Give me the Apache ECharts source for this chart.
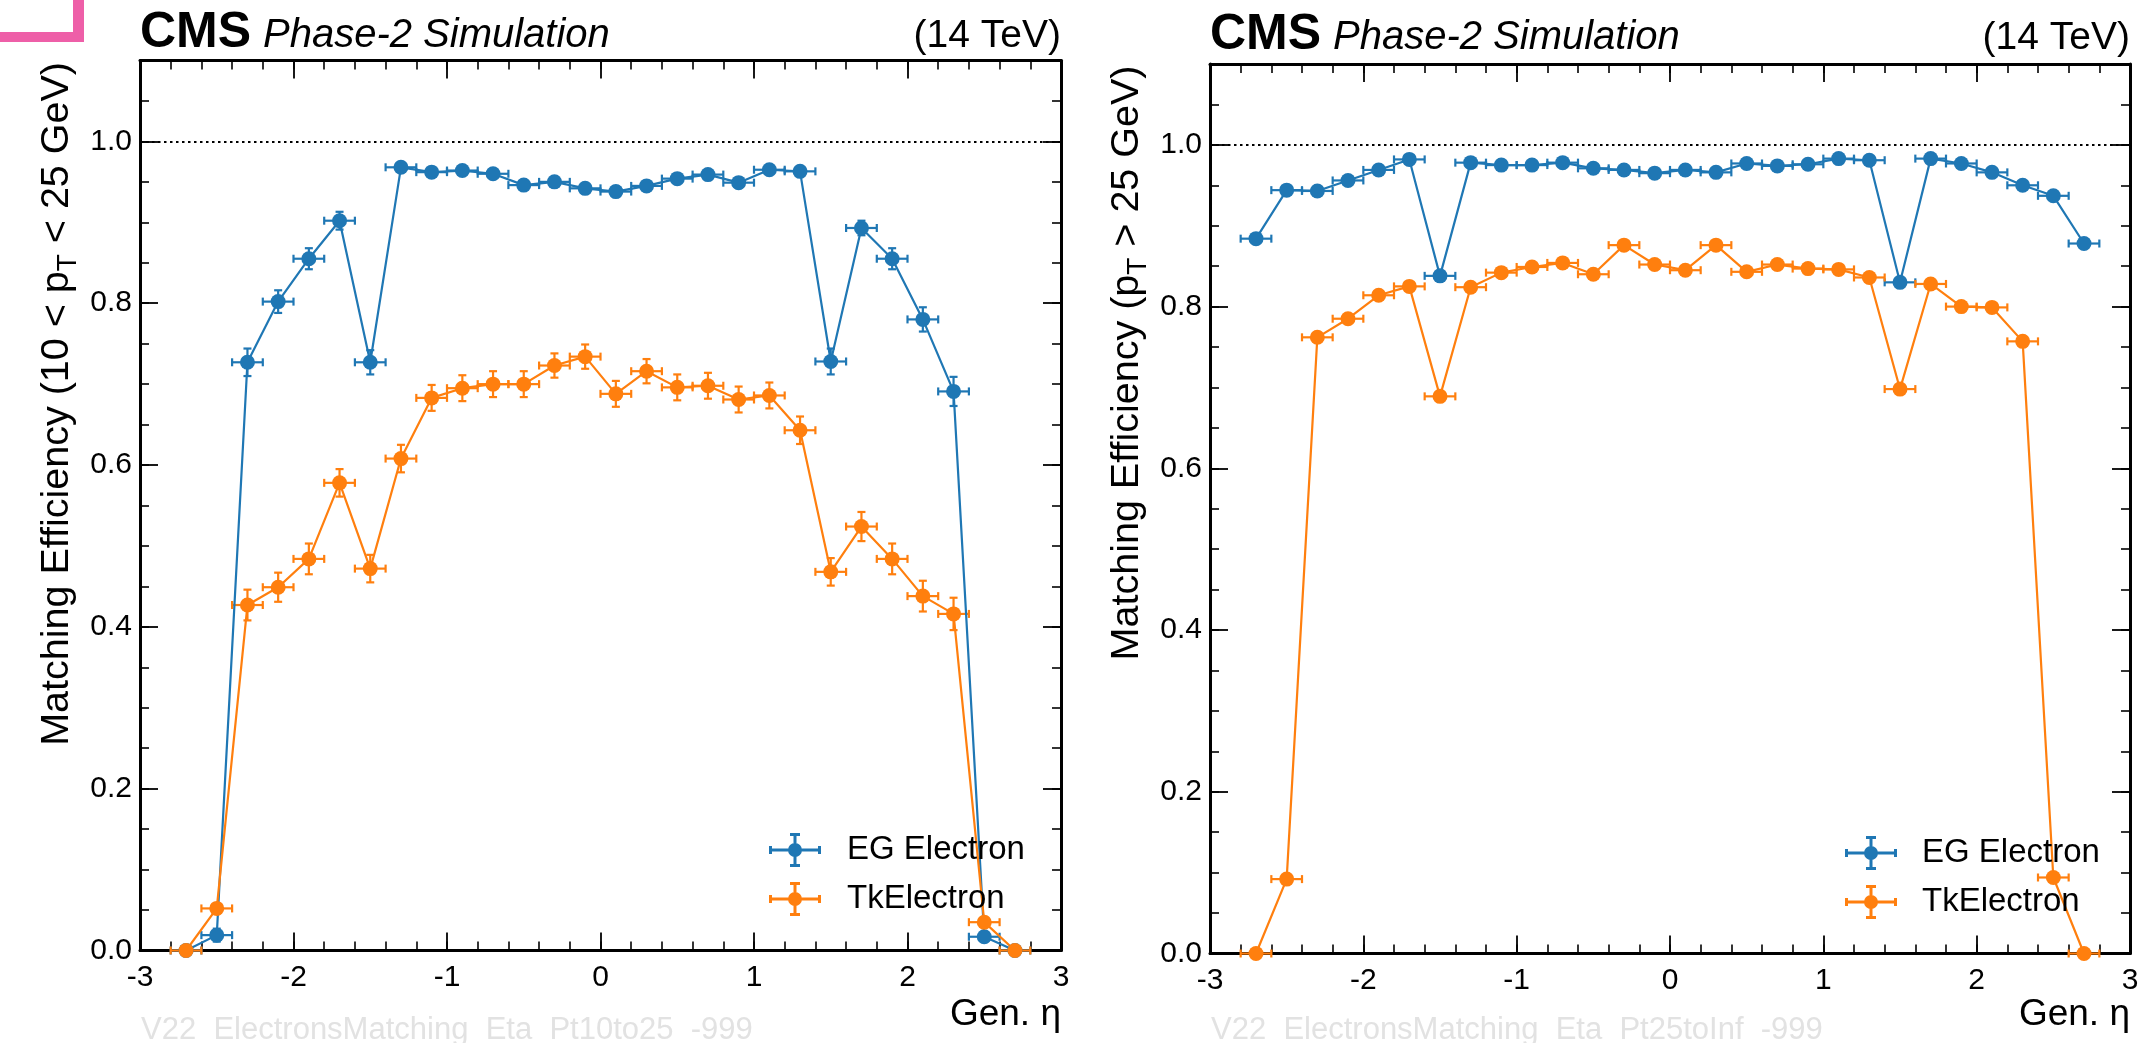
<!DOCTYPE html>
<html><head><meta charset="utf-8">
<script src="https://cdn.jsdelivr.net/npm/echarts@6/dist/echarts.min.js"></script>
<style>html,body{margin:0;padding:0;background:#fff;}#c{width:2146px;height:1043px;}</style>
</head><body><div id="c"></div>
<script>
// ---------------- data ----------------
const eta = [-2.7,-2.5,-2.3,-2.1,-1.9,-1.7,-1.5,-1.3,-1.1,-0.9,-0.7,-0.5,-0.3,-0.1,0.1,0.3,0.5,0.7,0.9,1.1,1.3,1.5,1.7,1.9,2.1,2.3,2.5,2.7];
const etaHalfWidth = 0.1;
// Left panel: 10 < pT < 25 GeV
const egLow    = [0,0.019,0.727,0.802,0.855,0.902,0.727,0.968,0.962,0.964,0.960,0.946,0.950,0.942,0.938,0.945,0.954,0.959,0.949,0.965,0.963,0.728,0.893,0.855,0.780,0.691,0.017,0];
const egLowErr = [0,0.008,0.017,0.014,0.013,0.011,0.015,0.004,0.005,0.005,0.005,0.006,0.006,0.006,0.006,0.006,0.005,0.005,0.006,0.004,0.005,0.016,0.009,0.013,0.015,0.018,0.006,0];
const tkLow    = [0,0.052,0.427,0.449,0.484,0.578,0.472,0.608,0.683,0.695,0.700,0.700,0.723,0.734,0.688,0.716,0.696,0.698,0.681,0.686,0.643,0.468,0.524,0.484,0.438,0.416,0.035,0];
const tkLowErr = [0,0.006,0.019,0.018,0.019,0.017,0.017,0.017,0.016,0.016,0.016,0.016,0.015,0.015,0.016,0.015,0.016,0.016,0.016,0.016,0.017,0.017,0.018,0.019,0.019,0.020,0.006,0];
// Right panel: pT > 25 GeV
const egHigh    = [0.884,0.944,0.943,0.956,0.969,0.982,0.838,0.978,0.975,0.975,0.978,0.971,0.969,0.965,0.969,0.966,0.977,0.974,0.976,0.983,0.981,0.830,0.983,0.977,0.966,0.950,0.937,0.878];
const egHighErr = [0.004,0.003,0.003,0.003,0.003,0.003,0.004,0.002,0.002,0.002,0.002,0.002,0.002,0.002,0.002,0.002,0.002,0.002,0.002,0.002,0.002,0.004,0.003,0.003,0.003,0.003,0.003,0.004];
const tkHigh    = [0,0.092,0.762,0.785,0.814,0.825,0.689,0.824,0.842,0.849,0.854,0.840,0.876,0.852,0.845,0.876,0.843,0.852,0.847,0.846,0.836,0.698,0.828,0.800,0.799,0.757,0.094,0];
const tkHighErr = [0,0.005,0.006,0.005,0.005,0.005,0.006,0.005,0.005,0.005,0.005,0.005,0.005,0.005,0.005,0.005,0.005,0.005,0.005,0.005,0.005,0.006,0.005,0.005,0.005,0.006,0.005,0];
const xTicks = {min: -3, max: 3, major: 1, minor: 0.2};
const yTicks = {min: 0, max: 1.1, major: 0.2, minor: 0.05};
const seriesNames = ['EG Electron', 'TkElectron'];
const yTitles = ['Matching Efficiency (10 < p{sub|T} < 25 GeV)', 'Matching Efficiency (p{sub|T} > 25 GeV)'];
const watermarks = ['V22_ElectronsMatching_Eta_Pt10to25_-999', 'V22_ElectronsMatching_Eta_Pt25toInf_-999'];

// ---------------- style ----------------
const FONT = '"Liberation Sans", Arial, Helvetica, sans-serif';
const BLUE = '#1f77b4', ORANGE = '#ff7f0e', PINK = '#ee5fa8';
const grids = [
  {left: 140, top: 60.5, width: 921, height: 890},
  {left: 1210, top: 64, width: 920, height: 889.5}
];
const LEGEND_ICON = 'path://M0 15.5H52V18.5H0Z M0 13H3V21H0Z M49 13H52V21H49Z M24.5 0H27.5V34H24.5Z M21 0H31V3H21Z M21 31H31V34H21Z M33 17A7 7 0 1 1 19 17A7 7 0 1 1 33 17Z';

function xAxes(gi) {
  const base = {type: 'value', gridIndex: gi, min: xTicks.min, max: xTicks.max, splitLine: {show: false}};
  return [
    Object.assign({}, base, {position: 'bottom', interval: xTicks.major,
      axisLine: {show: true, onZero: false, lineStyle: {color: '#000', width: 3}},
      axisTick: {show: true, inside: true, length: 18, lineStyle: {color: '#000', width: 1.8}},
      axisLabel: {show: true, margin: 12, fontSize: 30, fontFamily: FONT, color: '#000'}}),
    Object.assign({}, base, {position: 'bottom', interval: xTicks.minor,
      axisLine: {show: false, onZero: false},
      axisTick: {show: true, inside: true, length: 9, lineStyle: {color: '#000', width: 1.6}},
      axisLabel: {show: false}}),
    Object.assign({}, base, {position: 'top', interval: xTicks.major,
      axisLine: {show: true, onZero: false, lineStyle: {color: '#000', width: 3}},
      axisTick: {show: true, inside: true, length: 18, lineStyle: {color: '#000', width: 1.8}},
      axisLabel: {show: false}}),
    Object.assign({}, base, {position: 'top', interval: xTicks.minor,
      axisLine: {show: false, onZero: false},
      axisTick: {show: true, inside: true, length: 9, lineStyle: {color: '#000', width: 1.6}},
      axisLabel: {show: false}})
  ];
}
function yAxes(gi) {
  const base = {type: 'value', gridIndex: gi, min: yTicks.min, max: yTicks.max, splitLine: {show: false}};
  return [
    Object.assign({}, base, {position: 'left', interval: yTicks.major,
      axisLine: {show: true, onZero: false, lineStyle: {color: '#000', width: 3}},
      axisTick: {show: true, inside: true, length: 18, lineStyle: {color: '#000', width: 1.8}},
      axisLabel: {show: true, margin: 8, fontSize: 30, fontFamily: FONT, color: '#000', showMaxLabel: false,
        formatter: v => (v > 1.05 ? '' : v.toFixed(1))}}),
    Object.assign({}, base, {position: 'left', interval: yTicks.minor,
      axisLine: {show: false, onZero: false},
      axisTick: {show: true, inside: true, length: 9, lineStyle: {color: '#000', width: 1.6}},
      axisLabel: {show: false}}),
    Object.assign({}, base, {position: 'right', interval: yTicks.major,
      axisLine: {show: true, onZero: false, lineStyle: {color: '#000', width: 3}},
      axisTick: {show: true, inside: true, length: 18, lineStyle: {color: '#000', width: 1.8}},
      axisLabel: {show: false}}),
    Object.assign({}, base, {position: 'right', interval: yTicks.minor,
      axisLine: {show: false, onZero: false},
      axisTick: {show: true, inside: true, length: 9, lineStyle: {color: '#000', width: 1.6}},
      axisLabel: {show: false}})
  ];
}

function errRender(color) {
  return function (params, api) {
    const x = api.value(0), y = api.value(1), e = api.value(2);
    const c = api.coord([x, y]);
    const xl = api.coord([x - etaHalfWidth, y])[0];
    const xr = api.coord([x + etaHalfWidth, y])[0];
    const st = {stroke: color, lineWidth: 2.2};
    const cap = 4;
    const kids = [
      {type: 'line', shape: {x1: xl, y1: c[1], x2: xr, y2: c[1]}, style: st},
      {type: 'line', shape: {x1: xl, y1: c[1] - cap, x2: xl, y2: c[1] + cap}, style: st},
      {type: 'line', shape: {x1: xr, y1: c[1] - cap, x2: xr, y2: c[1] + cap}, style: st}
    ];
    if (e > 0) {
      const yt = api.coord([x, y + e])[1], yb = api.coord([x, y - e])[1];
      kids.push({type: 'line', shape: {x1: c[0], y1: yt, x2: c[0], y2: yb}, style: st});
      kids.push({type: 'line', shape: {x1: c[0] - cap, y1: yt, x2: c[0] + cap, y2: yt}, style: st});
      kids.push({type: 'line', shape: {x1: c[0] - cap, y1: yb, x2: c[0] + cap, y2: yb}, style: st});
    }
    return {type: 'group', children: kids};
  };
}

function panelSeries(gi, eg, egErr, tk, tkErr) {
  const xi = gi * 4, yi = gi * 4;
  const mk = (name, vals, errs, color, withRef) => {
    const out = [
      {type: 'custom', name: name, xAxisIndex: xi, yAxisIndex: yi, clip: false,
       itemStyle: {color: color}, renderItem: errRender(color),
       data: eta.map((x, i) => [x, vals[i], errs[i]]), z: 2},
      {type: 'line', name: name, xAxisIndex: xi, yAxisIndex: yi, clip: false,
       symbol: 'circle', symbolSize: 15, showSymbol: true,
       itemStyle: {color: color, borderWidth: 0}, lineStyle: {color: color, width: 2.2},
       data: eta.map((x, i) => [x, vals[i]]), z: 3}
    ];
    if (withRef) {
      out[1].markLine = {silent: true, symbol: 'none', label: {show: false},
        lineStyle: {color: '#000', width: 2, type: [2.5, 3.5]},
        emphasis: {disabled: true}, data: [{yAxis: 1}]};
    }
    return out;
  };
  return [].concat(mk(seriesNames[0], eg, egErr, BLUE, true), mk(seriesNames[1], tk, tkErr, ORANGE, false));
}

function panelTexts(gi) {
  const g = grids[gi];
  const right = g.left + g.width;
  const base = gi === 0 ? 50 : 52;
  return [
    {type: 'text', x: g.left, y: base - 17, style: {text: 'CMS', fontSize: 50, fontWeight: 'bold', fontFamily: FONT, fill: '#000', align: 'left', verticalAlign: 'middle'}},
    {type: 'text', x: g.left + 123, y: base - 14, style: {text: 'Phase-2 Simulation', fontSize: 40, fontStyle: 'italic', fontFamily: FONT, fill: '#000', align: 'left', verticalAlign: 'middle'}},
    {type: 'text', x: right, y: base - 14, style: {text: '(14 TeV)', fontSize: 39, fontFamily: FONT, fill: '#000', align: 'right', verticalAlign: 'middle'}},
    {type: 'text', x: g.left - 83, y: g.top + 1.5, rotation: Math.PI / 2,
     style: {text: yTitles[gi], fontSize: 39.5, fontFamily: FONT, fill: '#000', align: 'right', verticalAlign: 'middle', lineHeight: 42,
       rich: {sub: {fontSize: 28, fontFamily: FONT, fill: '#000', lineHeight: 50, verticalAlign: 'bottom'}}}},
    {type: 'text', x: right, y: 1015, style: {text: 'Gen. η', fontSize: 37, fontFamily: FONT, fill: '#000', align: 'right', verticalAlign: 'middle'}},
    {type: 'text', x: g.left + 1, y: 1030.5, style: {text: watermarks[gi], fontSize: 31, fontFamily: FONT, fill: '#e2e2e2', align: 'left', verticalAlign: 'middle'}}
  ];
}

const legendBase = {orient: 'vertical', padding: 0, itemWidth: 52, itemHeight: 34, itemGap: 15,
  icon: LEGEND_ICON, selectedMode: false, data: seriesNames,
  itemStyle: {borderWidth: 0}};

const option = {
  animation: false,
  backgroundColor: '#fff',
  grid: grids.map(g => Object.assign({containLabel: false}, g)),
  xAxis: xAxes(0).concat(xAxes(1)),
  yAxis: yAxes(0).concat(yAxes(1)),
  legend: [
    Object.assign({}, legendBase, {left: 769, top: 833,
      textStyle: {fontSize: 33, fontFamily: FONT, color: '#000', padding: [0, 0, 0, 21]}}),
    Object.assign({}, legendBase, {left: 1845, top: 836,
      textStyle: {fontSize: 33, fontFamily: FONT, color: '#000', padding: [0, 0, 0, 20]}})
  ],
  series: panelSeries(0, egLow, egLowErr, tkLow, tkLowErr).concat(panelSeries(1, egHigh, egHighErr, tkHigh, tkHighErr)),
  graphic: [
    {type: 'rect', shape: {x: 0, y: 32, width: 84, height: 10}, style: {fill: PINK}},
    {type: 'rect', shape: {x: 73, y: 0, width: 11, height: 42}, style: {fill: PINK}}
  ].concat(panelTexts(0), panelTexts(1))
};

const chart = echarts.init(document.getElementById('c'), null, {renderer: 'canvas'});
chart.setOption(option);
</script>
</body></html>
